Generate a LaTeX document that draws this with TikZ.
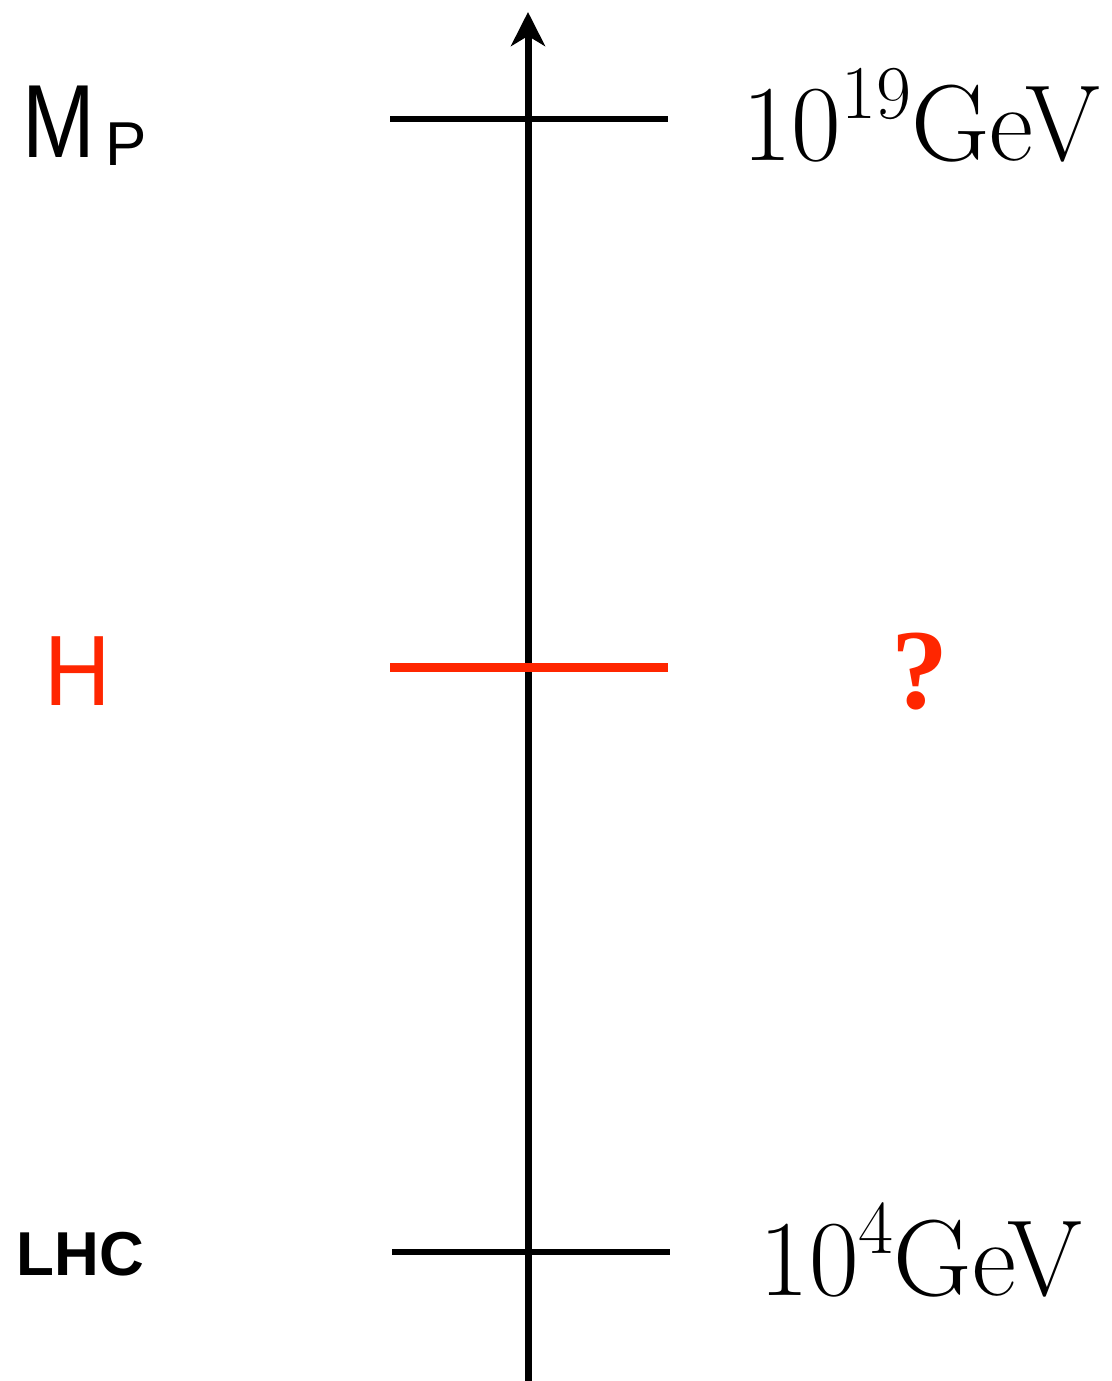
\documentclass[tikz,border=0pt]{standalone}
\usepackage{fontspec}
\usetikzlibrary{arrows.meta}
\newfontfamily\labelsans{Liberation Sans}
\newfontfamily\labelserif{Liberation Serif}
\definecolor{scalered}{RGB}{255,38,0}
\newcommand{\gevlabel}[1]{10\raisebox{21pt}{\fontsize{38}{44}\selectfont #1}GeV}

\begin{document}
\begin{tikzpicture}[x=0.5pt,y=-0.5pt,
  tickline/.style={line width=3pt},
  energy/.style={anchor=base,inner sep=0pt,font=\fontsize{54}{62}\selectfont}]
\useasboundingbox (0,0) rectangle (1112,1381);
% energy axis
\coordinate (axisbot) at (528,1381);
\coordinate (axistop) at (528,12);
\draw[line width=3.5pt,-{Stealth[length=17pt,width=17pt,inset=5pt]}] (axisbot)--(axistop);
% scales
\coordinate (planckL) at (390,119);\coordinate (planckR) at (668,119);
\coordinate (hubbleL) at (390,667);\coordinate (hubbleR) at (668,667);
\coordinate (lhcL) at (392,1252);\coordinate (lhcR) at (670,1252);
\draw[tickline] (planckL)--(planckR);
\draw[line width=4.5pt,scalered] (hubbleL)--(hubbleR);
\draw[tickline] (lhcL)--(lhcR);
% labels
\node[anchor=base west,inner sep=0pt] (planck) at (22,157){\labelsans\fontsize{52}{60}\selectfont \scalebox{0.84}[1]{M}\hspace{5pt}\raisebox{-4pt}{\fontsize{31}{38}\selectfont P}};
\node[anchor=base west,inner sep=0pt,text=scalered] (hubble) at (44,705){\labelsans\fontsize{50}{60}\selectfont \scalebox{0.92}[1]{H}};
\node[anchor=base west,inner sep=0pt] (lhc) at (16,1275){\labelsans\bfseries\fontsize{31}{38}\selectfont LHC};
\node[energy] (planckE) at (921,160){\gevlabel{19}};
\node[energy,text=scalered] (hubbleE) at (920,708){\labelserif\bfseries\fontsize{57}{62}\selectfont ?};
\node[energy] (lhcE) at (921,1295){\gevlabel{4}};
\end{tikzpicture}
\end{document}
